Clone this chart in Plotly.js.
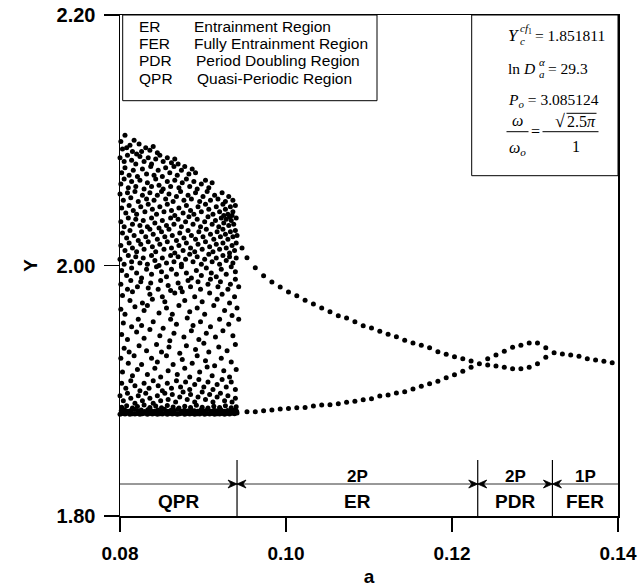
<!DOCTYPE html>
<html><head><meta charset="utf-8">
<script src="https://cdn.plot.ly/plotly-3.0.1.min.js"></script>
<style>html,body{margin:0;padding:0;background:#fff}</style>
</head><body><div id="chart" style="width:640px;height:587px"></div>
<script>
// ---------------- DATA ----------------
// Quasi-periodic (chaotic) cloud, [a, Y] pairs
const qprPoints = [
[0.0801,2.099],[0.0803,2.093],[0.0806,2.104],[0.0812,2.096],[0.0817,2.100],[0.0823,2.097],[0.0826,2.091],[0.0831,2.094],[0.0836,2.092],[0.0840,2.095],[0.0845,2.090],[0.0815,2.091],[0.0808,2.094],
[0.0800,2.086],[0.0805,2.083],[0.0809,2.088],[0.0814,2.084],[0.0819,2.081],[0.0824,2.087],[0.0829,2.083],[0.0834,2.086],[0.0838,2.081],[0.0843,2.085],[0.0848,2.088],[0.0852,2.083],[0.0857,2.086],[0.0862,2.082],[0.0866,2.085],[0.0870,2.081],[0.0820,2.089],
[0.0802,2.074],[0.0806,2.078],[0.0811,2.072],[0.0816,2.076],[0.0821,2.071],[0.0827,2.077],[0.0832,2.073],[0.0837,2.079],[0.0841,2.072],[0.0846,2.076],[0.0851,2.071],[0.0855,2.078],[0.0860,2.074],[0.0865,2.079],[0.0869,2.072],[0.0874,2.076],[0.0878,2.079],[0.0883,2.073],[0.0887,2.077],[0.0891,2.074],
[0.0801,2.065],[0.0805,2.069],[0.0810,2.062],[0.0814,2.067],[0.0819,2.063],[0.0824,2.068],[0.0829,2.061],[0.0833,2.066],[0.0838,2.063],[0.0843,2.069],[0.0847,2.064],[0.0852,2.061],[0.0857,2.067],[0.0861,2.063],[0.0866,2.068],[0.0871,2.062],[0.0875,2.066],[0.0880,2.069],[0.0884,2.063],[0.0889,2.067],[0.0893,2.061],[0.0898,2.065],[0.0903,2.068],[0.0907,2.062],[0.0911,2.066],
[0.0800,2.057],[0.0804,2.052],[0.0809,2.058],[0.0813,2.054],[0.0818,2.059],[0.0822,2.051],[0.0827,2.056],[0.0832,2.053],[0.0836,2.058],[0.0841,2.052],[0.0845,2.056],[0.0850,2.059],[0.0855,2.053],[0.0859,2.057],[0.0864,2.051],[0.0868,2.055],[0.0873,2.059],[0.0877,2.052],[0.0882,2.056],[0.0886,2.053],[0.0891,2.058],[0.0896,2.051],[0.0900,2.055],[0.0905,2.059],[0.0909,2.052],[0.0914,2.056],[0.0918,2.053],[0.0923,2.058],[0.0927,2.051],[0.0931,2.055],[0.0936,2.052],
[0.0802,2.046],[0.0807,2.042],[0.0811,2.048],[0.0816,2.044],[0.0820,2.041],[0.0825,2.047],[0.0830,2.043],[0.0834,2.049],[0.0839,2.045],[0.0844,2.041],[0.0848,2.047],[0.0853,2.043],[0.0857,2.049],[0.0862,2.044],[0.0866,2.040],[0.0871,2.046],[0.0876,2.042],[0.0880,2.048],[0.0885,2.044],[0.0889,2.041],[0.0894,2.047],[0.0898,2.043],[0.0903,2.049],[0.0907,2.045],[0.0912,2.041],[0.0916,2.047],[0.0920,2.043],[0.0924,2.049],[0.0927,2.045],[0.0930,2.041],[0.0933,2.047],[0.0936,2.043],[0.0939,2.048],[0.0925,2.040],[0.0935,2.040],
[0.0801,2.035],[0.0805,2.031],[0.0810,2.038],[0.0815,2.033],[0.0819,2.037],[0.0824,2.032],[0.0828,2.036],[0.0833,2.031],[0.0838,2.038],[0.0842,2.034],[0.0847,2.030],[0.0851,2.036],[0.0856,2.032],[0.0861,2.038],[0.0865,2.033],[0.0870,2.037],[0.0874,2.031],[0.0879,2.035],[0.0883,2.039],[0.0888,2.033],[0.0893,2.037],[0.0897,2.031],[0.0902,2.035],[0.0906,2.039],[0.0911,2.033],[0.0915,2.036],[0.0919,2.031],[0.0922,2.038],[0.0925,2.034],[0.0928,2.037],[0.0931,2.032],[0.0934,2.036],[0.0937,2.033],[0.0940,2.038],[0.0932,2.039],
[0.0803,2.026],[0.0808,2.022],[0.0812,2.028],[0.0817,2.024],[0.0822,2.020],[0.0826,2.027],[0.0831,2.023],[0.0836,2.029],[0.0840,2.025],[0.0845,2.021],[0.0850,2.027],[0.0854,2.023],[0.0859,2.029],[0.0863,2.024],[0.0868,2.020],[0.0872,2.026],[0.0877,2.022],[0.0882,2.028],[0.0886,2.024],[0.0891,2.021],[0.0895,2.027],[0.0900,2.023],[0.0904,2.029],[0.0909,2.025],[0.0913,2.021],[0.0917,2.027],[0.0921,2.023],[0.0924,2.029],[0.0927,2.025],[0.0930,2.021],[0.0933,2.027],[0.0936,2.023],[0.0939,2.028],[0.0941,2.024],
[0.0801,2.016],[0.0806,2.012],[0.0811,2.018],[0.0815,2.014],[0.0820,2.011],[0.0825,2.017],[0.0829,2.013],[0.0834,2.019],[0.0839,2.015],[0.0843,2.011],[0.0848,2.017],[0.0853,2.013],[0.0857,2.019],[0.0862,2.014],[0.0866,2.010],[0.0871,2.016],[0.0876,2.012],[0.0880,2.018],[0.0885,2.014],[0.0890,2.011],[0.0894,2.017],[0.0899,2.013],[0.0903,2.019],[0.0908,2.015],[0.0912,2.011],[0.0916,2.017],[0.0920,2.013],[0.0924,2.018],[0.0928,2.014],[0.0932,2.010],[0.0935,2.016],[0.0938,2.012],[0.0940,2.018],[0.0947,2.014],
[0.0800,2.005],[0.0805,2.001],[0.0810,2.008],[0.0814,2.003],[0.0819,2.007],[0.0824,2.002],[0.0828,2.006],[0.0833,2.001],[0.0838,2.008],[0.0842,2.004],[0.0847,2.000],[0.0851,2.006],[0.0856,2.002],[0.0861,2.008],[0.0865,2.003],[0.0870,2.007],[0.0874,2.001],[0.0879,2.005],[0.0884,2.009],[0.0888,2.003],[0.0893,2.007],[0.0898,2.001],[0.0902,2.005],[0.0907,2.009],[0.0911,2.003],[0.0916,2.006],[0.0920,2.001],[0.0924,2.008],[0.0928,2.004],[0.0932,2.007],[0.0936,2.002],[0.0940,2.006],
[0.0802,1.996],[0.0808,1.992],[0.0814,1.998],[0.0820,1.994],[0.0826,1.990],[0.0832,1.997],[0.0838,1.993],[0.0844,1.999],[0.0850,1.995],[0.0856,1.991],[0.0862,1.997],[0.0868,1.993],[0.0874,1.999],[0.0880,1.994],[0.0886,1.990],[0.0892,1.996],[0.0898,1.992],[0.0904,1.998],[0.0910,1.994],[0.0916,1.991],[0.0922,1.997],[0.0928,1.993],[0.0934,1.999],[0.0939,1.995],
[0.0801,1.985],[0.0809,1.981],[0.0813,1.988],[0.0821,1.983],[0.0825,1.987],[0.0834,1.982],[0.0837,1.986],[0.0846,1.981],[0.0849,1.988],[0.0858,1.984],[0.0861,1.980],[0.0870,1.986],[0.0873,1.982],[0.0882,1.988],[0.0885,1.983],[0.0894,1.987],[0.0897,1.981],[0.0906,1.985],[0.0909,1.989],[0.0918,1.983],[0.0921,1.987],[0.0930,1.981],[0.0933,1.985],[0.0939,1.989],[0.0943,1.983],
[0.0803,1.976],[0.0812,1.972],[0.0815,1.979],[0.0827,1.970],[0.0836,1.977],[0.0839,1.973],[0.0851,1.975],[0.0854,1.971],[0.0866,1.978],[0.0875,1.979],[0.0878,1.972],[0.0890,1.975],[0.0899,1.971],[0.0908,1.978],[0.0917,1.973],[0.0923,1.977],[0.0932,1.970],[0.0938,1.975],
[0.0801,1.965],[0.0806,1.961],[0.0818,1.967],[0.0829,1.964],[0.0833,1.968],[0.0847,1.962],[0.0856,1.966],[0.0863,1.961],[0.0871,1.968],[0.0884,1.963],[0.0893,1.966],[0.0902,1.961],[0.0913,1.968],[0.0926,1.964],[0.0935,1.960],[0.0941,1.966],
[0.0804,1.954],[0.0814,1.951],[0.0822,1.957],[0.0826,1.952],[0.0840,1.955],[0.0852,1.950],[0.0861,1.957],[0.0868,1.953],[0.0881,1.958],[0.0888,1.952],[0.0897,1.955],[0.0909,1.951],[0.0920,1.957],[0.0931,1.953],[0.0943,1.957],
[0.0802,1.945],[0.0809,1.941],[0.0820,1.947],[0.0829,1.942],[0.0836,1.949],[0.0848,1.944],[0.0860,1.940],[0.0865,1.946],[0.0877,1.943],[0.0886,1.948],[0.0895,1.941],[0.0904,1.946],[0.0915,1.943],[0.0924,1.948],[0.0936,1.944],
[0.0805,1.934],[0.0811,1.931],[0.0823,1.936],[0.0832,1.932],[0.0844,1.937],[0.0850,1.931],[0.0859,1.935],[0.0872,1.930],[0.0880,1.936],[0.0891,1.933],[0.0901,1.938],[0.0907,1.931],[0.0919,1.935],[0.0929,1.932],[0.0939,1.937],
[0.0801,1.926],[0.0810,1.922],[0.0817,1.928],[0.0826,1.921],[0.0838,1.926],[0.0845,1.923],[0.0856,1.928],[0.0864,1.921],[0.0875,1.925],[0.0887,1.922],[0.0893,1.928],[0.0903,1.924],[0.0914,1.920],[0.0922,1.926],[0.0934,1.923],
[0.0803,1.915],[0.0815,1.912],[0.0821,1.917],[0.0833,1.913],[0.0842,1.918],[0.0849,1.911],[0.0858,1.916],[0.0869,1.913],[0.0878,1.918],[0.0884,1.911],[0.0896,1.915],[0.0905,1.919],[0.0911,1.912],[0.0925,1.916],[0.0932,1.911],[0.0940,1.917],
[0.0802,1.906],[0.0807,1.902],[0.0813,1.908],[0.0818,1.904],[0.0824,1.900],[0.0829,1.906],[0.0835,1.902],[0.0840,1.908],[0.0846,1.904],[0.0851,1.900],[0.0857,1.906],[0.0862,1.902],[0.0868,1.908],[0.0873,1.903],[0.0879,1.907],[0.0884,1.901],[0.0890,1.905],[0.0895,1.909],[0.0901,1.903],[0.0906,1.907],[0.0912,1.901],[0.0917,1.905],[0.0923,1.909],[0.0928,1.903],[0.0934,1.907],[0.0939,1.901],
[0.0800,1.896],[0.0804,1.892],[0.0809,1.898],[0.0813,1.894],[0.0818,1.890],[0.0822,1.896],[0.0827,1.892],[0.0831,1.898],[0.0836,1.894],[0.0840,1.890],[0.0845,1.896],[0.0849,1.892],[0.0854,1.898],[0.0858,1.893],[0.0863,1.897],[0.0867,1.891],[0.0872,1.895],[0.0876,1.899],[0.0881,1.893],[0.0885,1.897],[0.0890,1.891],[0.0894,1.895],[0.0899,1.899],[0.0903,1.893],[0.0908,1.897],[0.0912,1.891],[0.0917,1.895],[0.0921,1.898],[0.0926,1.892],[0.0930,1.896],[0.0935,1.891],[0.0939,1.894],
[0.0800,1.8813],[0.0803,1.8818],[0.0806,1.8815],[0.0809,1.8820],[0.0812,1.8812],[0.0815,1.8817],[0.0818,1.8814],[0.0821,1.8819],[0.0824,1.8812],[0.0827,1.8816],[0.0830,1.8820],[0.0833,1.8813],[0.0836,1.8818],[0.0839,1.8814],[0.0842,1.8819],[0.0845,1.8812],[0.0848,1.8817],[0.0851,1.8815],[0.0854,1.8820],[0.0857,1.8813],[0.0860,1.8818],[0.0863,1.8814],[0.0866,1.8819],[0.0869,1.8812],[0.0872,1.8816],[0.0875,1.8820],[0.0878,1.8813],[0.0881,1.8818],[0.0884,1.8815],[0.0887,1.8819],[0.0890,1.8812],[0.0893,1.8817],[0.0896,1.8814],[0.0899,1.8820],[0.0902,1.8813],[0.0905,1.8818],[0.0908,1.8815],[0.0911,1.8819],[0.0914,1.8812],[0.0917,1.8817],[0.0920,1.8814],[0.0923,1.8819],[0.0926,1.8813],[0.0929,1.8818],[0.0932,1.8815],[0.0935,1.8820],[0.0938,1.8816],[0.0941,1.8822],
[0.08015,1.8840],[0.08055,1.8848],[0.08095,1.8836],[0.08135,1.8845],[0.08175,1.8851],[0.08215,1.8838],[0.08255,1.8846],[0.08295,1.8835],[0.08335,1.8849],[0.08375,1.8841],[0.08415,1.8836],[0.08455,1.8847],[0.08495,1.8839],[0.08535,1.8852],[0.08575,1.8837],[0.08615,1.8845],[0.08655,1.8840],[0.08695,1.8850],[0.08735,1.8836],[0.08775,1.8844],[0.08815,1.8838],[0.08855,1.8848],[0.08895,1.8841],[0.08935,1.8836],[0.08975,1.8846],[0.09015,1.8839],[0.09055,1.8850],[0.09095,1.8837],[0.09135,1.8844],[0.09175,1.8840],[0.09215,1.8848],[0.09255,1.8836],[0.09295,1.8843],[0.09335,1.8838],[0.09375,1.8845],[0.09405,1.8836],
[0.0802,1.8868],[0.0808,1.8880],[0.0815,1.8862],[0.0821,1.8875],[0.0829,1.8886],[0.0836,1.8866],[0.0843,1.8878],[0.0850,1.8864],[0.0857,1.8883],[0.0864,1.8870],[0.0871,1.8862],[0.0878,1.8877],[0.0885,1.8866],[0.0892,1.8884],[0.0899,1.8868],[0.0906,1.8862],[0.0913,1.8876],[0.0920,1.8866],[0.0927,1.8880],[0.0934,1.8864],[0.0940,1.8872]
];
// Upper periodic branch (ER upper -> PDR upper -> FER)
const upperA = [0.0953,0.0963,0.0973,0.0983,0.0993,0.1003,0.1013,0.1023,0.1033,0.1043,0.1053,0.1063,0.1073,0.1083,0.1093,0.1103,0.1113,0.1123,0.1133,0.1143,0.1153,0.1163,0.1173,0.1183,0.1193,0.1203,0.1213,0.1223,0.1233,
                0.1243,0.1253,0.1263,0.1273,0.1283,0.1293,0.1303,0.1313,
                0.1323,0.1333,0.1343,0.1353,0.1363,0.1373,0.1383,0.1393];
const upperY = [2.0062,1.9982,1.9919,1.9868,1.9828,1.9788,1.9759,1.9722,1.9693,1.9661,1.9631,1.9599,1.9581,1.9551,1.9519,1.9501,1.9475,1.9451,1.9432,1.9403,1.9381,1.9363,1.9344,1.9312,1.9291,1.9272,1.9256,1.9237,1.9216,
                1.9256,1.9285,1.9315,1.9347,1.9363,1.9381,1.9381,1.9344,
                1.9304,1.9293,1.9285,1.9275,1.9256,1.9246,1.9235,1.9224];
// Lower periodic branch (ER lower -> PDR lower)
const lowerA = [0.0953,0.0963,0.0973,0.0983,0.0993,0.1003,0.1013,0.1023,0.1033,0.1043,0.1053,0.1063,0.1073,0.1083,0.1093,0.1103,0.1113,0.1123,0.1133,0.1143,0.1153,0.1163,0.1173,0.1183,0.1193,0.1203,0.1213,0.1223,
                0.1243,0.1253,0.1263,0.1273,0.1283,0.1293,0.1303,0.1313];
const lowerY = [1.8833,1.8833,1.8841,1.8846,1.8854,1.8858,1.8865,1.8866,1.8878,1.8886,1.8888,1.8897,1.8908,1.8916,1.8929,1.8937,1.8958,1.8966,1.8982,1.8992,1.9014,1.9036,1.9056,1.9075,1.9104,1.9128,1.9155,1.9187,
                1.9206,1.9198,1.9187,1.9176,1.9176,1.9187,1.9216,1.9267];

// Region bar
const regionBounds = [0.08, 0.0941, 0.1231, 0.1321, 0.14];
const regionNames  = ['QPR', 'ER', 'PDR', 'FER'];
const periodLabels = ['', '2P', '2P', '1P'];

// Ticks
const xTicks = [0.08, 0.10, 0.12, 0.14];
const xTickText = ['0.08', '0.10', '0.12', '0.14'];
const yTicks = [1.80, 2.00, 2.20];
const yTickText = ['1.80', '2.00', '2.20'];

// Legend box texts
const legendAbbr = ['ER', 'FER', 'PDR', 'QPR'];
const legendDesc = ['Entrainment Region', 'Fully Entrainment Region', 'Period Doubling Region', 'Quasi-Periodic Region'];

// Parameter box values
const paramYc = '1.851811';
const paramLnD = '29.3';
const paramPo = '3.085124';

// ---------------- LAYOUT HELPERS ----------------
const PL = 120, PR = 618, PT = 15, PB = 516;
const fx = p => (p - PL) / (PR - PL);
const fy = p => (PB - p) / (PB - PT);
const SANS = 'Liberation Sans, Arial, sans-serif';
const SERIF = 'Liberation Serif, Times New Roman, serif';

const annotations = [];
const shapes = [];

function txt(x, y, text, opt) {
  annotations.push(Object.assign({
    xref: 'paper', yref: 'paper', x: fx(x), y: fy(y), text: text, showarrow: false,
    xanchor: 'left', yanchor: 'middle',
    font: {family: SANS, size: 15.5, color: 'black'}
  }, opt || {}));
}
function line(x0, y0, x1, y1, w) {
  shapes.push({type: 'line', xref: 'paper', yref: 'paper', x0: fx(x0), y0: fy(y0), x1: fx(x1), y1: fy(y1),
    line: {color: 'black', width: w || 1}});
}

// Legend box
shapes.push({type: 'rect', xref: 'paper', yref: 'paper', x0: fx(122.7), x1: fx(377), y0: fy(100.7), y1: 1,
  line: {color: 'black', width: 1}});
const legRowsY = [26.5, 43.5, 60.8, 78];
const legDescX = [191.5, 191.5, 193.5, 195];
legendAbbr.forEach((t, i) => {
  txt(136.5, legRowsY[i], t);
  txt(legDescX[i], legRowsY[i], legendDesc[i]);
});

// Parameter box
shapes.push({type: 'rect', xref: 'paper', yref: 'paper', x0: fx(471.7), x1: 1, y0: fy(175.7), y1: 1,
  line: {color: 'black', width: 1}});
const sf = (s) => ({family: SERIF, size: s, color: 'black'});
txt(505.5, 35.5, '<i>Y</i>', {font: sf(17)});
txt(517.5, 28.5, '<i>cf</i><sub>1</sub>', {font: sf(11)});
txt(517.5, 41.5, '<i>c</i>', {font: sf(11)});
txt(533, 35.5, '= ' + paramYc, {font: sf(15.5)});
txt(505.5, 68, 'ln <i>D</i>', {font: sf(15.5)});
txt(536.5, 62, '<i>α</i>', {font: sf(11)});
txt(536.5, 74, '<i>a</i>', {font: sf(11)});
txt(546, 68, '= ' + paramLnD, {font: sf(15.5)});
txt(505.5, 100, '<i>P</i><sub><i>o</i></sub> = ' + paramPo, {font: sf(15.5)});
// fraction
txt(517, 120, '<i>ω</i>', {font: sf(16), xanchor: 'center'});
line(506.5, 131.7, 528.5, 131.7, 1);
txt(517, 148, '<i>ω</i><sub><i>o</i></sub>', {font: sf(16), xanchor: 'center'});
txt(535.5, 131.7, '=', {font: sf(16), xanchor: 'center'});
txt(553, 121, '√', {font: sf(18)});
line(566.5, 113.3, 596.5, 113.3, 1);
txt(581.5, 122, '2.5<i>π</i>', {font: sf(16), xanchor: 'center'});
line(542.5, 131.7, 598.5, 131.7, 1);
txt(575.5, 146.5, '1', {font: sf(16), xanchor: 'center'});

// Region bar
const barY = 484, sepTop = 460;
shapes.push({type: 'line', xref: 'x', yref: 'paper', x0: regionBounds[0], x1: regionBounds[regionBounds.length - 1],
  y0: fy(barY), y1: fy(barY), line: {color: '#333', width: 1}});
for (let i = 1; i < regionBounds.length - 1; i++) {
  shapes.push({type: 'line', xref: 'x', yref: 'paper', x0: regionBounds[i], x1: regionBounds[i],
    y0: fy(sepTop), y1: 0, line: {color: 'black', width: 1.2}});
  [-1, 1].forEach(s => shapes.push({
    type: 'path', xref: 'x', yref: 'paper', xsizemode: 'pixel', ysizemode: 'pixel',
    xanchor: regionBounds[i], yanchor: fy(barY),
    path: `M ${-9 * s} -4 L 0 0 L ${-9 * s} 4 L ${-6 * s} 0 Z`,
    fillcolor: 'black', line: {color: 'black', width: 0.8}
  }));
}
regionNames.forEach((n, i) => {
  const xc = (regionBounds[i] + regionBounds[i + 1]) / 2;
  annotations.push({xref: 'x', yref: 'paper', x: xc, y: fy(501), text: '<b>' + n + '</b>', showarrow: false,
    xanchor: 'center', yanchor: 'middle', font: {family: SANS, size: 19, color: 'black'}});
  if (periodLabels[i]) annotations.push({xref: 'x', yref: 'paper', x: xc, y: fy(476), text: '<b>' + periodLabels[i] + '</b>',
    showarrow: false, xanchor: 'center', yanchor: 'middle', font: {family: SANS, size: 17, color: 'black'}});
});

const tickFont = {family: SANS, size: 19, color: 'black', weight: 'bold'};

const mk = {color: 'black', size: 5, line: {width: 0}};
const traces = [
  {type: 'scatter', mode: 'markers', x: qprPoints.map(p => p[0]), y: qprPoints.map(p => p[1]), marker: mk, cliponaxis: false, hoverinfo: 'skip'},
  {type: 'scatter', mode: 'markers', x: upperA, y: upperY, marker: mk, hoverinfo: 'skip'},
  {type: 'scatter', mode: 'markers', x: lowerA, y: lowerY, marker: mk, hoverinfo: 'skip'}
];

const layout = {
  width: 640, height: 587,
  margin: {l: PL, r: 640 - PR, t: PT, b: 587 - PB, pad: 0},
  paper_bgcolor: 'white', plot_bgcolor: 'white',
  showlegend: false,
  xaxis: {
    range: [0.08, 0.14], tickvals: xTicks, ticktext: xTickText.map(t => '<b>' + t + '</b>'),
    ticks: 'outside', ticklen: 14, tickwidth: 1.5, tickcolor: 'black',
    showline: true, mirror: true, linecolor: 'black', linewidth: 1.5,
    showgrid: false, zeroline: false, tickfont: tickFont, ticklabelstandoff: 6,
    title: {text: '<b>a</b>', font: {family: SANS, size: 19, color: 'black'}, standoff: 6}
  },
  yaxis: {
    range: [1.80, 2.20], tickvals: yTicks, ticktext: yTickText.map(t => '<b>' + t + '</b>'),
    ticks: 'outside', ticklen: 15, tickwidth: 1.5, tickcolor: 'black',
    showline: true, mirror: true, linecolor: 'black', linewidth: 1.5,
    showgrid: false, zeroline: false, tickfont: {family: SANS, size: 20, color: 'black', weight: 'bold'}, ticklabelstandoff: 4,
    title: {text: '<b>Y</b>', font: {family: SANS, size: 19, color: 'black'}, standoff: 14}
  },
  shapes: shapes,
  annotations: annotations
};

Plotly.newPlot('chart', traces, layout, {displayModeBar: false, staticPlot: true});
</script></body></html>
